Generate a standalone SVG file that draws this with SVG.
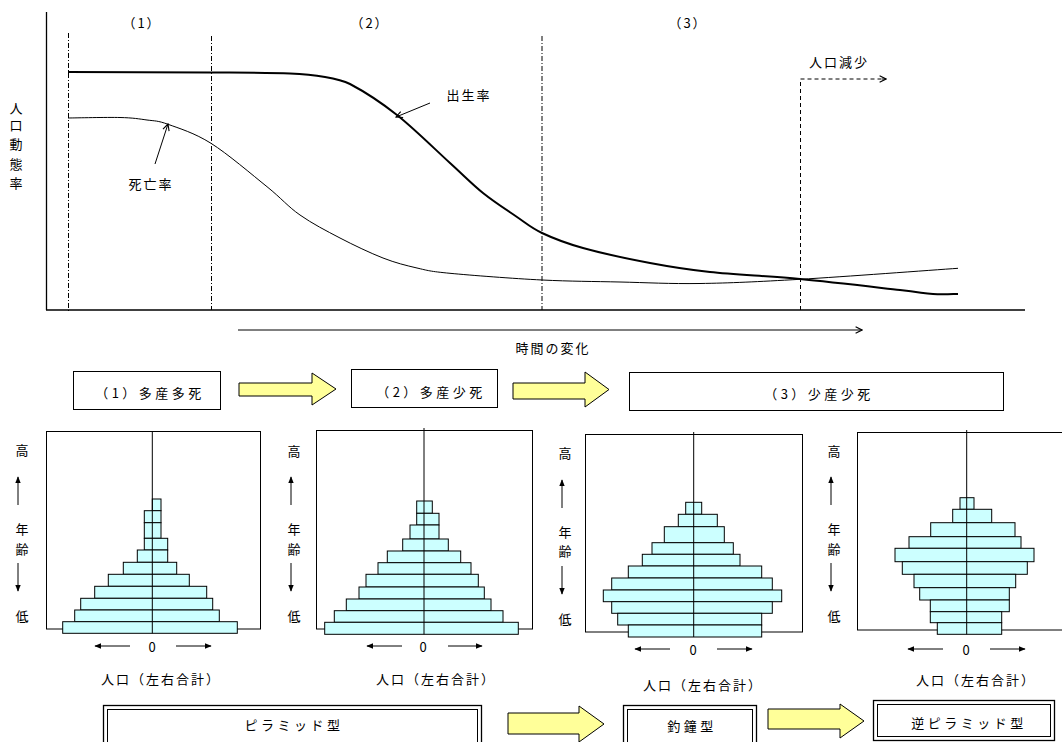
<svg xmlns="http://www.w3.org/2000/svg" width="1062" height="742" viewBox="0 0 1062 742">
<style>
.t{font-family:"Noto Sans CJK JP","Noto Sans CJK SC",sans-serif;font-size:13px;fill:#000;letter-spacing:2px;dominant-baseline:central;text-anchor:middle}
.ts{letter-spacing:3.5px}
.ax{stroke:#000;stroke-width:1.3;fill:none}
.ln{stroke:#000;stroke-width:1;fill:none}
.thick{stroke:#000;stroke-width:2;fill:none}
.dd{stroke:#000;stroke-width:1;fill:none;stroke-dasharray:5 2 1 2}
.ds{stroke:#000;stroke-width:1;fill:none;stroke-dasharray:4 3}
.bar{fill:#CCFFFF;stroke:#000;stroke-width:1}
.box{fill:#fff;stroke:#000;stroke-width:1}
.pbox{fill:none;stroke:#000;stroke-width:1}
.ya{fill:#FFFF99;stroke:#000;stroke-width:1}
.dbo{fill:#fff;stroke:#000;stroke-width:1.3}
.dbi{fill:none;stroke:#000;stroke-width:1}
</style>
<defs>
<marker id="oa" viewBox="0 0 10 10" refX="9" refY="5" markerWidth="8" markerHeight="8" markerUnits="userSpaceOnUse" orient="auto">
<path d="M1,1 L9,5 L1,9" fill="none" stroke="#000" stroke-width="1.4"/>
</marker>
<marker id="fa" viewBox="0 0 10 10" refX="9" refY="5" markerWidth="7" markerHeight="7" markerUnits="userSpaceOnUse" orient="auto">
<path d="M0,1 L10,5 L0,9 Z" fill="#000"/>
</marker>
</defs>

<g id="chart">
<line class="ax" x1="46.5" y1="12" x2="46.5" y2="310"/>
<line class="ax" x1="46" y1="310" x2="1025" y2="310"/>
<line class="dd" x1="68.5" y1="33" x2="68.5" y2="312"/>
<line class="dd" x1="211.5" y1="36" x2="211.5" y2="310"/>
<line class="dd" x1="542" y1="36" x2="542" y2="310" stroke="#444"/>
<text class="t" x="142" y="22">（1）</text>
<text class="t" x="370" y="22">（2）</text>
<text class="t" x="688" y="22">（3）</text>
<text class="t" x="17" y="107">人</text>
<text class="t" x="17" y="124">口</text>
<text class="t" x="17" y="143">動</text>
<text class="t" x="17" y="163">態</text>
<text class="t" x="17" y="182">率</text>
</g>

<g id="birth-rate">
<path class="thick" d="M68,72 L211,72.5 C248,72.75 271,72.75 290,73.5 C309,74.25 315,75.25 325,77 C335,78.75 342,80 350,84 C362,90.33 380.3,101.8 397,115 C413.7,128.2 435.7,150 450,163 C464.3,176 471.8,184 483,193 C494.2,202 507.2,210.3 517,217 C526.8,223.7 531,227.8 542,233 C553,238.2 565,243 583,248 C601,253 628.8,259 650,263 C671.2,267 685,269.3 710,272 C735,274.7 768.3,276 800,279 C831.7,282 877.8,287.5 900,290 C922.2,292.5 923.3,293.3 933,294 C942.7,294.7 953.8,294 958,294"/>
<text class="t" x="469" y="94">出生率</text>
<line class="ln" x1="430" y1="103" x2="396" y2="117" marker-end="url(#oa)"/>
</g>

<g id="death-rate">
<path class="ln" d="M68,118 C76.7,117.9 106.8,117.2 120,117.5 C133.2,117.8 139,118.9 147,120 C155,121.1 157.3,120.4 168,124.3 C178.7,128.2 194.5,132.9 211,143.3 C227.5,153.7 252.2,174.8 267,186.7 C281.8,198.6 287.8,206.5 300,215 C312.2,223.6 326.2,230.8 340,238 C353.8,245.2 370.2,253 383,258 C395.8,263 405.8,265.4 417,268 C428.2,270.6 429.2,271.3 450,273.3 C470.8,275.3 513.7,278.6 542,280 C570.3,281.4 593.7,281.4 620,282 C646.3,282.6 670,283.95 700,283.5 C730,283.05 757,281.8 800,279.3 C843,276.8 931.7,270.1 958,268.3"/>
<text class="t" x="151" y="183">死亡率</text>
<line class="ln" x1="155" y1="164" x2="168" y2="124" marker-end="url(#oa)"/>
</g>

<g id="decline">
<path class="ds" d="M800.5,310 L800.5,79 L885,79"/>
<line class="ln" x1="882" y1="79" x2="886" y2="79" marker-end="url(#oa)"/>
<text class="t" x="839" y="61">人口減少</text>
</g>

<g id="time-axis">
<line class="ln" x1="238" y1="330" x2="862" y2="330" marker-end="url(#oa)"/>
<text class="t" x="553" y="347">時間の変化</text>
</g>

<g id="stage1">
<rect class="box" x="73.5" y="371.5" width="147" height="38"/>
<text class="t ts" x="150" y="392">（1）多産多死</text>
</g>
<g id="stage2">
<rect class="box" x="351.5" y="369.5" width="146" height="38"/>
<text class="t ts" x="431" y="391">（2）多産少死</text>
</g>
<g id="stage3">
<rect class="box" x="629.5" y="372.5" width="374" height="38"/>
<text class="t ts" x="819" y="393">（3）少産少死</text>
</g>

<g id="connectors">
<polygon class="ya" points="239,383 312,383 312,373 336,389 312,405 312,396 239,396"/>
<polygon class="ya" points="513,383 585,383 585,372 609,389.5 585,407 585,399 513,399"/>
<polygon class="ya" points="508,713 579,713 579,706 604,724 579,742 579,734 508,734"/>
<polygon class="ya" points="768,709 840,709 840,704 864,721 840,738 840,729 768,729"/>
</g>

<g id="pyramid1">
<rect class="pbox" x="46.5" y="431.5" width="214" height="197.5"/>
<rect class="bar" x="152.3" y="499" width="8.7" height="11.7"/>
<rect class="bar" x="144.3" y="510.7" width="16.7" height="12"/>
<rect class="bar" x="144.3" y="522.7" width="16.7" height="15.6"/>
<rect class="bar" x="144.3" y="538.3" width="23.4" height="11.7"/>
<rect class="bar" x="137.3" y="550" width="30.4" height="12.3"/>
<rect class="bar" x="123.3" y="562.3" width="53.4" height="12"/>
<rect class="bar" x="108.3" y="574.3" width="81" height="12"/>
<rect class="bar" x="94.7" y="586.3" width="112" height="12"/>
<rect class="bar" x="80.7" y="598.3" width="132" height="11.7"/>
<rect class="bar" x="74.7" y="610" width="144.6" height="11.7"/>
<rect class="bar" x="62.7" y="621.7" width="174.6" height="11.6"/>
<line class="ln" x1="152.3" y1="431" x2="152.3" y2="633.3"/>
<text class="t" x="23" y="449">高</text>
<line class="ln" x1="18" y1="505" x2="18" y2="477" marker-end="url(#fa)"/>
<text class="t" x="23" y="528">年</text>
<text class="t" x="23" y="548">齢</text>
<line class="ln" x1="18" y1="563" x2="18" y2="591" marker-end="url(#fa)"/>
<text class="t" x="23" y="615">低</text>
<text class="t" x="153" y="646" letter-spacing="0">0</text>
<line class="ln" x1="130" y1="646" x2="95" y2="646" marker-end="url(#fa)"/>
<line class="ln" x1="176" y1="646" x2="211" y2="646" marker-end="url(#fa)"/>
<text class="t" x="161" y="678">人口（左右合計）</text>
</g>

<g id="pyramid2">
<rect class="pbox" x="316.5" y="430.5" width="216" height="198.5"/>
<rect class="bar" x="416.7" y="501" width="15.6" height="12.3"/>
<rect class="bar" x="416.7" y="513.3" width="22.3" height="11.7"/>
<rect class="bar" x="410" y="525" width="29" height="14"/>
<rect class="bar" x="402.7" y="539" width="45.6" height="12"/>
<rect class="bar" x="387.3" y="551" width="73.4" height="11.7"/>
<rect class="bar" x="378" y="562.7" width="93" height="11.6"/>
<rect class="bar" x="366" y="574.3" width="112.3" height="12.7"/>
<rect class="bar" x="359" y="587" width="125.3" height="12"/>
<rect class="bar" x="346.3" y="599" width="144.7" height="11.7"/>
<rect class="bar" x="334.3" y="610.7" width="168.7" height="11.6"/>
<rect class="bar" x="324.7" y="622.3" width="193.6" height="12"/>
<line class="ln" x1="424" y1="428" x2="424" y2="634.3"/>
<text class="t" x="295" y="450">高</text>
<line class="ln" x1="291" y1="505" x2="291" y2="477" marker-end="url(#fa)"/>
<text class="t" x="295" y="528">年</text>
<text class="t" x="295" y="548">齢</text>
<line class="ln" x1="291" y1="563" x2="291" y2="591" marker-end="url(#fa)"/>
<text class="t" x="295" y="615">低</text>
<text class="t" x="424" y="646" letter-spacing="0">0</text>
<line class="ln" x1="402" y1="646" x2="367" y2="646" marker-end="url(#fa)"/>
<line class="ln" x1="448" y1="646" x2="482" y2="646" marker-end="url(#fa)"/>
<text class="t" x="436" y="678">人口（左右合計）</text>
</g>

<g id="pyramid3">
<rect class="pbox" x="585.5" y="434.5" width="217" height="197.5"/>
<rect class="bar" x="685.7" y="502.3" width="16" height="12"/>
<rect class="bar" x="678.3" y="514.3" width="39" height="12.4"/>
<rect class="bar" x="664.3" y="526.7" width="60" height="16"/>
<rect class="bar" x="652" y="542.7" width="81.3" height="11.6"/>
<rect class="bar" x="642.3" y="554.3" width="97.7" height="11.7"/>
<rect class="bar" x="628.3" y="566" width="133.4" height="12"/>
<rect class="bar" x="611.7" y="578" width="160.6" height="12"/>
<rect class="bar" x="603.3" y="590" width="178.4" height="11.7"/>
<rect class="bar" x="611.7" y="601.7" width="160.6" height="11.6"/>
<rect class="bar" x="617.7" y="613.3" width="144" height="11.7"/>
<rect class="bar" x="628.3" y="625" width="133.4" height="12"/>
<line class="ln" x1="693.7" y1="432" x2="693.7" y2="637"/>
<text class="t" x="566" y="452">高</text>
<line class="ln" x1="562" y1="508" x2="562" y2="480" marker-end="url(#fa)"/>
<text class="t" x="566" y="531">年</text>
<text class="t" x="566" y="550">齢</text>
<line class="ln" x1="562" y1="566" x2="562" y2="594" marker-end="url(#fa)"/>
<text class="t" x="566" y="618">低</text>
<text class="t" x="694" y="649" letter-spacing="0">0</text>
<line class="ln" x1="670" y1="649" x2="635" y2="649" marker-end="url(#fa)"/>
<line class="ln" x1="717" y1="649" x2="752" y2="649" marker-end="url(#fa)"/>
<text class="t" x="703" y="684">人口（左右合計）</text>
</g>

<g id="pyramid4">
<rect class="pbox" x="857.5" y="432.5" width="220" height="197.5"/>
<rect class="bar" x="960" y="497.7" width="14" height="11.6"/>
<rect class="bar" x="952.7" y="509.3" width="39" height="13.4"/>
<rect class="bar" x="930.7" y="522.7" width="84.3" height="14"/>
<rect class="bar" x="909" y="536.7" width="112" height="11.6"/>
<rect class="bar" x="895" y="548.3" width="139" height="13.4"/>
<rect class="bar" x="902.3" y="561.7" width="125" height="12.6"/>
<rect class="bar" x="914" y="574.3" width="101.7" height="13.4"/>
<rect class="bar" x="919.7" y="587.7" width="89.6" height="12.3"/>
<rect class="bar" x="930.3" y="600" width="79" height="11.7"/>
<rect class="bar" x="930.3" y="611.7" width="71.4" height="11"/>
<rect class="bar" x="937.3" y="622.7" width="64.4" height="11.6"/>
<line class="ln" x1="966.7" y1="430" x2="966.7" y2="634.3"/>
<text class="t" x="835" y="450">高</text>
<line class="ln" x1="831" y1="505" x2="831" y2="477" marker-end="url(#fa)"/>
<text class="t" x="835" y="528">年</text>
<text class="t" x="835" y="548">齢</text>
<line class="ln" x1="831" y1="563" x2="831" y2="591" marker-end="url(#fa)"/>
<text class="t" x="835" y="615">低</text>
<text class="t" x="967" y="649" letter-spacing="0">0</text>
<line class="ln" x1="943" y1="649" x2="908" y2="649" marker-end="url(#fa)"/>
<line class="ln" x1="990" y1="649" x2="1025" y2="649" marker-end="url(#fa)"/>
<text class="t" x="976" y="679">人口（左右合計）</text>
</g>

<g id="type-pyramid">
<rect class="dbo" x="103.5" y="705.5" width="378" height="50"/>
<rect class="dbi" x="107.5" y="709.5" width="370" height="42"/>
<text class="t ts" x="294" y="724">ピラミッド型</text>
</g>
<g id="type-bell">
<rect class="dbo" x="623.5" y="705.5" width="133" height="50"/>
<rect class="dbi" x="627.5" y="709.5" width="125" height="42"/>
<text class="t ts" x="692" y="725">釣鐘型</text>
</g>
<g id="type-inverted">
<rect class="dbo" x="873.5" y="700.5" width="181" height="40"/>
<rect class="dbi" x="877.5" y="704.5" width="173" height="32"/>
<text class="t ts" x="969" y="722">逆ピラミッド型</text>
</g>
</svg>
